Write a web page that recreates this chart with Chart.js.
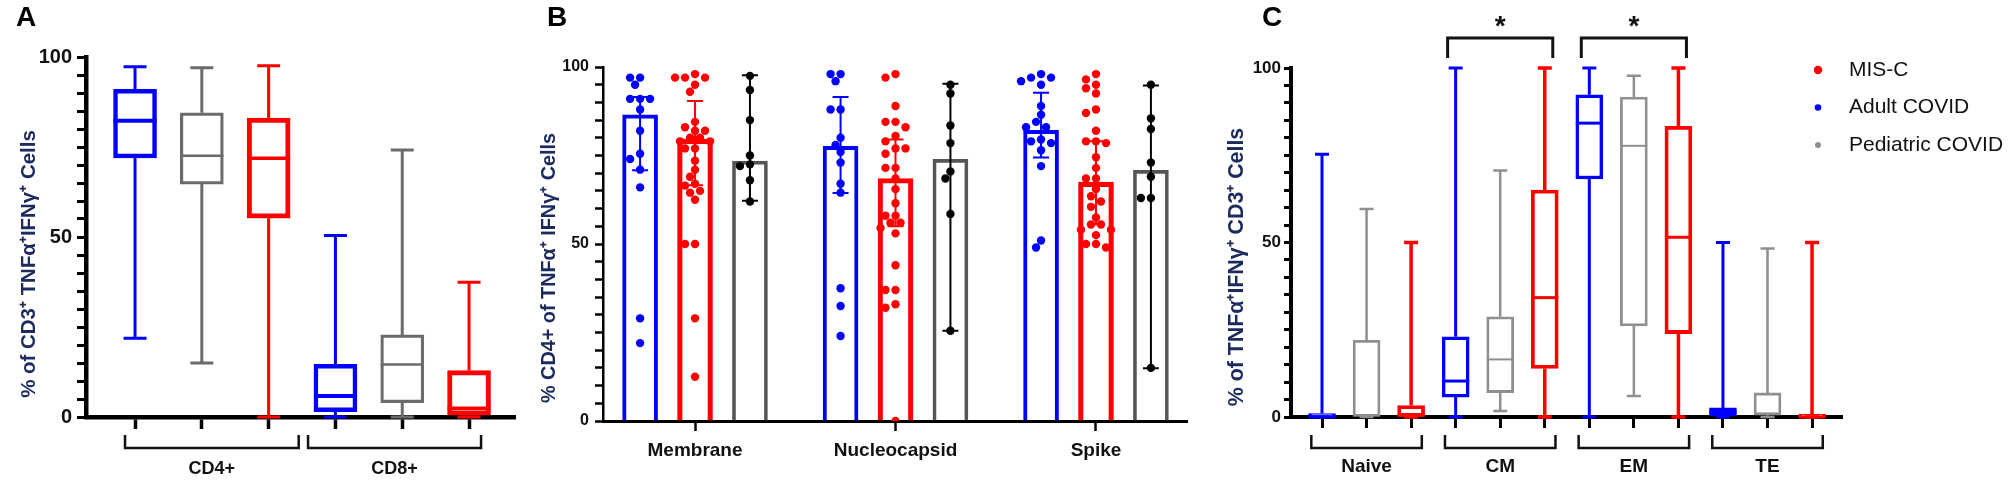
<!DOCTYPE html>
<html lang="en">
<head>
<meta charset="UTF-8">
<title>TNFα+ IFNγ+ T cell responses</title>
<script src="https://cdn.jsdelivr.net/npm/chart.js"></script>
<style>
  body { margin: 0; background: #fff; }
  #wrap { position: relative; width: 2008px; height: 482px; overflow: hidden; background: #fff; }
  canvas { position: absolute; top: 0; }
</style>
</head>
<body>
<div id="wrap">
  <canvas id="chartA" width="525" height="482" style="left:0px"></canvas>
  <canvas id="chartB" width="680" height="482" style="left:525px"></canvas>
  <canvas id="chartC" width="803" height="482" style="left:1205px"></canvas>
</div>
<script>
// ---- data ----
const seriesNames = ['Adult COVID', 'Pediatric COVID', 'MIS-C'];

// Panel A: [min, Q1, median, Q3, max]
const cellTypesA = ['CD4+', 'CD8+'];
const adultA = [[21.9, 72, 82.3, 91, 97.3], [0, 1.5, 5.8, 14.6, 50.4]];
const pediatricA = [[15, 64.7, 72.6, 84.5, 97], [0, 4, 14.6, 22.8, 74.2]];
const miscA = [[0, 55.2, 71.9, 83, 97.6], [0, 0.5, 2.4, 12.9, 37.4]];

// Panel B: bar heights, error ranges [low, high] and individual points
const antigensB = ['Membrane', 'Nucleocapsid', 'Spike'];
const adultBarB = [86.5, 77.6, 82.1];
const miscBarB = [79.6, 68.5, 67.5];
const pediatricBarB = [73.4, 73.9, 70.8];
const adultErrB = [[70.8, 91.5], [64.4, 91.5], [74.4, 92.7]];
const miscErrB = [[66.6, 90.4], [55, 79.5], [55.5, 79]];
const pediatricErrB = [[62.2, 97.7], [25.5, 95.3], [14.9, 94.8]];
const adultPtsB = [
  [97, 97, 95, 91, 91, 91, 88, 82, 75.5, 74, 71, 66, 29, 22],
  [98, 98, 96, 88, 88, 80, 78, 76, 73, 67, 64.5, 37.5, 32.5, 24],
  [98, 97, 97, 96, 95, 89, 86.5, 84.5, 83, 83, 79.5, 79, 78.5, 76.5, 72, 51, 49]
];
const miscPtsB = [
  [98, 97, 97, 97, 95, 93, 84.5, 83, 82, 82, 80, 80, 79, 79, 77, 77, 73.5, 71, 69, 67, 66.5, 65, 64.5, 62.5, 50, 50, 29, 12.5],
  [98, 97, 89, 84.5, 84.5, 83, 80.5, 79, 77, 77, 75.5, 71.5, 71.5, 68.5, 65.5, 61.5, 58, 58, 56, 56, 54.5, 53, 44, 37, 37, 33, 32, 0],
  [98, 96.5, 95, 94, 92.5, 88, 87, 82, 79, 79, 78.5, 74.5, 71.5, 68.5, 68.5, 65.5, 63.5, 62, 60.5, 57.5, 55.5, 55.5, 54, 54, 52.5, 50, 50, 49]
];
const pediatricPtsB = [
  [97.5, 93.5, 85, 75, 72.5, 72, 68, 62],
  [95, 92.5, 83.5, 78.5, 70.5, 68.5, 58.5, 25.5],
  [95, 85.5, 82.5, 73, 69, 63, 63, 15]
];

// Panel C: [min, Q1, median, Q3, max]
const subsetsC = ['Naive', 'CM', 'EM', 'TE'];
const adultC = [[0, 0, 0, 1, 75.3], [0, 5.7, 10.3, 23, 100], [0, 68.2, 84.2, 92.3, 100], [0, 0.3, 1.4, 2.6, 50]];
const pediatricC = [[0, 0, 0.5, 22, 59.6], [1.7, 7, 16.5, 28.7, 70.6], [6, 26.1, 77.7, 91.7, 97.8], [0, 0.5, 1, 6.9, 48.3]];
const miscC = [[0, 0, 0.5, 3.3, 50], [0, 13.9, 34.2, 65, 100], [0, 23.9, 51.5, 83.3, 100], [0, 0, 0, 0.8, 50]];
const significantC = ['CM', 'EM'];

// ---- styling ----
const FONT = '"Liberation Sans", Arial, sans-serif';
const BLUE = '#0000ff', RED = '#ff0000';
const TITLE_COLOR = '#1c2a5e';
Chart.defaults.font.family = FONT;
Chart.defaults.color = '#111';

// floating bar (Q1..Q3) per group; whiskers and median added by plugin
function boxSet(label, stats, slot, color, o) {
  return {
    type: 'bar', label, stats,
    data: stats.map((s, g) => ({ x: g * 3 + slot, y: [s[1], s[3]] })),
    backgroundColor: '#ffffff', borderColor: color, borderWidth: o.box,
    borderSkipped: false, barThickness: o.width, grouped: false,
    whiskerWidth: o.whisker, medianWidth: o.median, capWidth: o.cap
  };
}

const whiskerPlugin = {
  id: 'whiskers',
  afterDatasetsDraw(chart) {
    const { ctx } = chart;
    const y = chart.scales.y;
    chart.data.datasets.forEach((ds, di) => {
      if (!ds.stats) return;
      const els = chart.getDatasetMeta(di).data;
      ctx.save();
      ctx.strokeStyle = ds.borderColor;
      ds.stats.forEach(([mn, q1, md, q3, mx], i) => {
        const cx = els[i].x, half = els[i].width / 2, cap = ds.capWidth / 2;
        ctx.lineWidth = ds.whiskerWidth;
        ctx.beginPath();
        ctx.moveTo(cx, y.getPixelForValue(q3)); ctx.lineTo(cx, y.getPixelForValue(mx));
        ctx.moveTo(cx, y.getPixelForValue(q1)); ctx.lineTo(cx, y.getPixelForValue(mn));
        ctx.moveTo(cx - cap, y.getPixelForValue(mx)); ctx.lineTo(cx + cap, y.getPixelForValue(mx));
        ctx.moveTo(cx - cap, y.getPixelForValue(mn)); ctx.lineTo(cx + cap, y.getPixelForValue(mn));
        ctx.stroke();
        ctx.lineWidth = ds.medianWidth;
        ctx.beginPath();
        ctx.moveTo(cx - half, y.getPixelForValue(md)); ctx.lineTo(cx + half, y.getPixelForValue(md));
        ctx.stroke();
      });
      ctx.restore();
    });
  }
};

const errorBarPlugin = {
  id: 'errorBars',
  afterDatasetsDraw(chart) {
    const { ctx } = chart;
    const y = chart.scales.y;
    chart.data.datasets.forEach((ds, di) => {
      if (!ds.err) return;
      const els = chart.getDatasetMeta(di).data;
      ctx.save();
      ctx.strokeStyle = ds.errColor;
      ctx.lineWidth = 2;
      ds.err.forEach(([lo, hi], i) => {
        const cx = els[i].x, yl = y.getPixelForValue(lo), yh = y.getPixelForValue(hi);
        ctx.beginPath();
        ctx.moveTo(cx, yl); ctx.lineTo(cx, yh);
        ctx.moveTo(cx - 8, yl); ctx.lineTo(cx + 8, yl);
        ctx.moveTo(cx - 8, yh); ctx.lineTo(cx + 8, yh);
        ctx.stroke();
      });
      ctx.restore();
    });
  }
};

function scalesFor(o) {
  return {
    x: {
      type: 'linear', min: o.xMin, max: o.xMax, offset: false,
      afterBuildTicks: s => { s.ticks = o.xTicks.map(v => ({ value: v })); },
      afterFit: s => { s.height = o.xHeight; },
      ticks: { display: false, autoSkip: false },
      grid: { display: true, drawOnChartArea: false, drawTicks: true, offset: false,
              tickLength: o.xTickLen, tickWidth: o.xTickW, tickColor: '#000' },
      border: { display: true, color: '#000', width: o.xAxisW }
    },
    y: {
      type: 'linear', min: 0, max: 100,
      afterFit: s => { s.width = o.yWidth; },
      ticks: { stepSize: 5, maxTicksLimit: 30, autoSkip: false, padding: o.tickPad, color: '#111',
               font: { size: o.tickSize, weight: 'bold' },
               callback: v => (v % 50 === 0 ? v : '') },
      grid: { display: true, drawOnChartArea: false, drawTicks: true,
              tickLength: o.yTickLen, tickWidth: o.yTickW, tickColor: '#000' },
      border: { display: true, color: '#000', width: o.yAxisW }
    }
  };
}

const baseOptions = (layoutPad, scales) => ({
  responsive: false, animation: false, devicePixelRatio: 1,
  layout: { padding: layoutPad },
  plugins: { legend: { display: false }, tooltip: { enabled: false } },
  scales
});

function drawYTitle(ctx, text, cx, cy, length, weight) {
  ctx.save();
  ctx.font = `${weight} 20px ${FONT}`;
  const size = 20 * length / ctx.measureText(text).width;
  ctx.font = `${weight} ${size}px ${FONT}`;
  ctx.translate(cx, cy);
  ctx.rotate(-Math.PI / 2);
  ctx.textAlign = 'center'; ctx.textBaseline = 'middle';
  ctx.fillStyle = TITLE_COLOR;
  ctx.fillText(text, 0, 0);
  ctx.restore();
}

function drawText(ctx, text, x, y, font, align) {
  ctx.save();
  ctx.font = font; ctx.fillStyle = '#111';
  ctx.textAlign = align || 'center'; ctx.textBaseline = 'middle';
  ctx.fillText(text, x, y);
  ctx.restore();
}

function drawLetter(ctx, letter, x) {
  ctx.save();
  ctx.font = `bold 28px ${FONT}`; ctx.fillStyle = '#000';
  ctx.textAlign = 'left'; ctx.textBaseline = 'top';
  ctx.fillText(letter, x, 4);
  ctx.restore();
}

function groupBracket(ctx, x1, x2, yTop, yBot, w) {
  ctx.save();
  ctx.strokeStyle = '#111'; ctx.lineWidth = w;
  ctx.beginPath();
  ctx.moveTo(x1, yTop); ctx.lineTo(x1, yBot); ctx.lineTo(x2, yBot); ctx.lineTo(x2, yTop);
  ctx.stroke();
  ctx.restore();
}

// ---- Panel A ----
const optA = { box: 4.5, width: 43, whisker: 3, median: 4, cap: 23 };
new Chart(document.getElementById('chartA'), {
  type: 'bar',
  data: {
    datasets: [
      boxSet(seriesNames[0], adultA, 0, BLUE, optA),
      boxSet(seriesNames[1], pediatricA, 1, '#6b6b6b', { box: 3.2, width: 43, whisker: 3, median: 2.5, cap: 23 }),
      boxSet(seriesNames[2], miscA, 2, RED, { box: 5, width: 43, whisker: 3, median: 3.5, cap: 23 })
    ]
  },
  options: baseOptions({ top: 57, right: 10, left: 0, bottom: 0 }, scalesFor({
    xMin: -0.734, xMax: 5.688, xTicks: [0, 1, 2, 3, 4, 5], xHeight: 65,
    xTickLen: 12, xTickW: 3.5, xAxisW: 4.5,
    yWidth: 86, tickPad: 5, tickSize: 20, yTickLen: 9, yTickW: 3, yAxisW: 4.5
  })),
  plugins: [whiskerPlugin, {
    id: 'decorA',
    afterDraw(chart) {
      const { ctx } = chart; const x = chart.scales.x;
      drawLetter(ctx, 'A', 16);
      drawYTitle(ctx, '% of CD3⁺ TNFα⁺IFNγ⁺ Cells', 29, 264, 268, 'bold');
      const spans = [[-0.15, 2.45], [2.59, 5.18]];
      cellTypesA.forEach((name, g) => {
        const x1 = x.getPixelForValue(spans[g][0]), x2 = x.getPixelForValue(spans[g][1]);
        groupBracket(ctx, x1, x2, 435, 448, 2.5);
        drawText(ctx, name, (x1 + x2) / 2, 469, `bold 18px ${FONT}`);
      });
    }
  }]
});

// ---- Panel B ----
const PX_PER_X_B = 200.5, PX_PER_Y_B = 3.54;
function swarm(values, centre) {
  const placed = [];
  return [...values].sort((a, b) => b - a).map(v => {
    const yPx = v * PX_PER_Y_B;
    for (const k of [0, -5, 5, -10, 10, -15, 15, -20, 20]) {
      if (placed.every(p => Math.hypot(p.x - k, p.y - yPx) >= 8.5)) {
        placed.push({ x: k, y: yPx });
        return { x: centre + k / PX_PER_X_B, y: v };
      }
    }
    return { x: centre, y: v };
  });
}
const slotB = [-0.274, 0, 0.274];
function barSetB(label, values, err, slot, color, bw, errColor) {
  return {
    type: 'bar', label, err, errColor,
    data: values.map((v, g) => ({ x: g + slotB[slot], y: v })),
    backgroundColor: 'rgba(255,255,255,0)', borderColor: color, borderWidth: bw,
    barThickness: 35, grouped: false, order: 2
  };
}
function pointSetB(label, pts, slot, color) {
  return {
    type: 'scatter', label, showLine: false, order: 1,
    data: pts.flatMap((vals, g) => swarm(vals, g + slotB[slot])),
    pointRadius: 4.2, pointBackgroundColor: color, pointBorderWidth: 0
  };
}
new Chart(document.getElementById('chartB'), {
  type: 'bar',
  data: {
    datasets: [
      barSetB(seriesNames[0], adultBarB, adultErrB, 0, BLUE, 3.3, BLUE),
      barSetB(seriesNames[2], miscBarB, miscErrB, 1, RED, 4.5, RED),
      barSetB(seriesNames[1], pediatricBarB, pediatricErrB, 2, '#555555', 3, '#000'),
      pointSetB(seriesNames[0], adultPtsB, 0, BLUE),
      pointSetB(seriesNames[2], miscPtsB, 1, RED),
      pointSetB(seriesNames[1], pediatricPtsB, 2, '#000')
    ]
  },
  options: baseOptions({ top: 67, right: 18, left: 0, bottom: 0 }, scalesFor({
    xMin: -0.459, xMax: 2.454, xTicks: [0, 1, 2], xHeight: 61,
    xTickLen: 10, xTickW: 2.5, xAxisW: 3,
    yWidth: 78, tickPad: 6, tickSize: 16, yTickLen: 8, yTickW: 2.5, yAxisW: 2.5
  })),
  plugins: [errorBarPlugin, {
    id: 'decorB',
    afterDraw(chart) {
      const { ctx } = chart; const x = chart.scales.x;
      drawLetter(ctx, 'B', 22);
      drawYTitle(ctx, '% CD4+ of TNFα⁺ IFNγ⁺ Cells', 25, 268, 270, '600');
      antigensB.forEach((name, g) => drawText(ctx, name, x.getPixelForValue(g), 451, `bold 19px ${FONT}`));
    }
  }]
});

// ---- Panel C ----
const optC = { box: 3.5, width: 27, whisker: 3, median: 3, cap: 14 };
const GRAY_C = '#8f8f8f';
new Chart(document.getElementById('chartC'), {
  type: 'bar',
  data: {
    datasets: [
      boxSet(seriesNames[0], adultC, 0, BLUE, optC),
      boxSet(seriesNames[1], pediatricC, 1, GRAY_C, { box: 2.8, width: 27, whisker: 2.5, median: 2, cap: 14 }),
      boxSet(seriesNames[2], miscC, 2, RED, { box: 3.8, width: 27, whisker: 3.5, median: 3, cap: 14 })
    ]
  },
  options: baseOptions({ top: 68, right: 166, left: 0, bottom: 0 }, scalesFor({
    xMin: -0.696, xMax: 11.672, xTicks: [0, 1, 2, 3, 4, 5, 6, 7, 8, 9, 10, 11], xHeight: 65,
    xTickLen: 11, xTickW: 3, xAxisW: 4,
    yWidth: 86, tickPad: 3, tickSize: 17, yTickLen: 7, yTickW: 3, yAxisW: 4
  })),
  plugins: [whiskerPlugin, {
    id: 'decorC',
    afterDraw(chart) {
      const { ctx } = chart; const x = chart.scales.x;
      drawLetter(ctx, 'C', 57);
      drawYTitle(ctx, '% of TNFα⁺IFNγ⁺ CD3⁺ Cells', 32, 267, 280, '600');
      subsetsC.forEach((name, g) => {
        const x1 = x.getPixelForValue(3 * g - 0.24), x2 = x.getPixelForValue(3 * g + 2.24);
        groupBracket(ctx, x1, x2, 435, 448, 2.5);
        drawText(ctx, name, x.getPixelForValue(3 * g + 1), 467, `bold 19px ${FONT}`);
        if (significantC.includes(name)) {
          const s1 = x.getPixelForValue(3 * g - 0.18), s2 = x.getPixelForValue(3 * g + 2.18);
          ctx.save();
          ctx.strokeStyle = '#111'; ctx.lineWidth = 3;
          ctx.beginPath();
          ctx.moveTo(s1, 58); ctx.lineTo(s1, 38); ctx.lineTo(s2, 38); ctx.lineTo(s2, 58);
          ctx.stroke();
          ctx.font = `bold 28px ${FONT}`; ctx.fillStyle = '#111';
          ctx.textAlign = 'center'; ctx.textBaseline = 'alphabetic';
          ctx.fillText('*', (s1 + s2) / 2, 35);
          ctx.restore();
        }
      });
      // legend
      const legend = [[seriesNames[2], RED, 4.2], [seriesNames[0], BLUE, 3.3], [seriesNames[1], GRAY_C, 3]];
      legend.forEach(([name, color, r], i) => {
        const ly = 70 + i * 37.5;
        ctx.save();
        ctx.fillStyle = color;
        ctx.beginPath(); ctx.arc(613, ly, r, 0, Math.PI * 2); ctx.fill();
        ctx.restore();
        drawText(ctx, name, 644, ly, `21px ${FONT}`, 'left');
      });
    }
  }]
});
</script>
</body>
</html>
